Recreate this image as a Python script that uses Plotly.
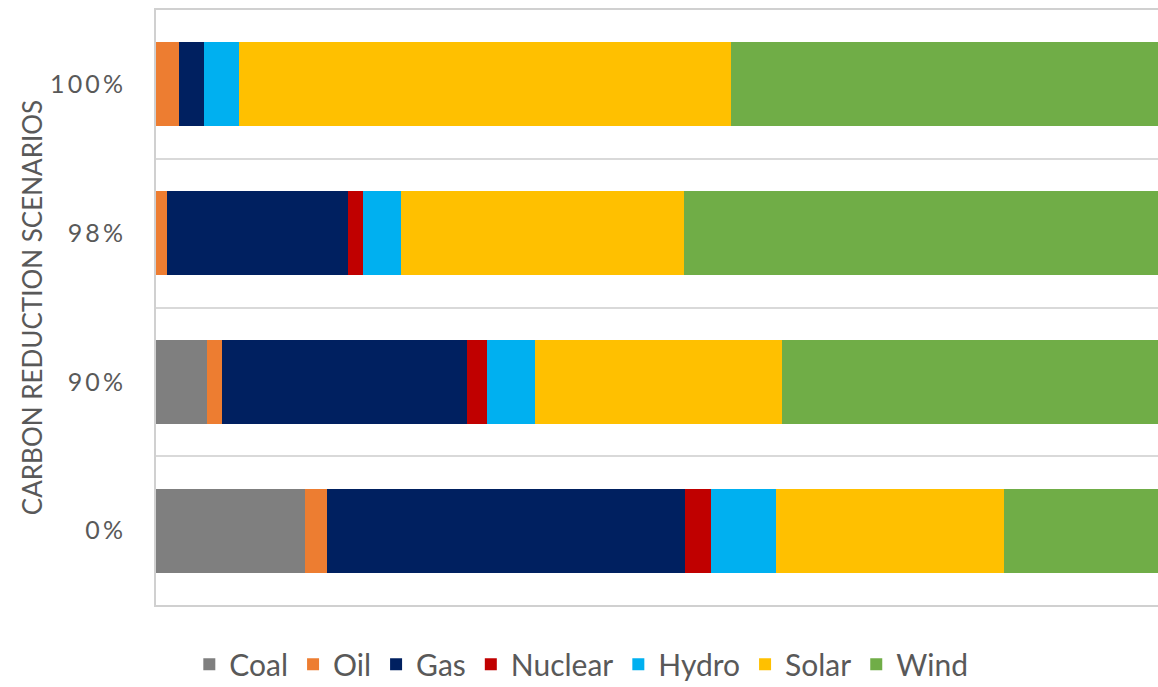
import plotly.graph_objects as go

# Generation mix (% of total) for each carbon reduction scenario
scenarios = ["0%", "90%", "98%", "100%"]
coal = [14.8, 5.0, 0.0, 0.0]
oil = [2.1, 1.5, 1.1, 2.3]
gas = [35.5, 24.3, 17.9, 2.5]
nuclear = [2.5, 2.0, 1.5, 0.0]
hydro = [6.5, 4.7, 3.8, 3.4]
solar = [22.6, 24.5, 28.0, 48.7]
wind = [16.0, 38.0, 47.7, 43.1]

series = [
    ("Coal", coal, "#7f7f7f"),
    ("Oil", oil, "#ed7d31"),
    ("Gas", gas, "#002060"),
    ("Nuclear", nuclear, "#c00000"),
    ("Hydro", hydro, "#00b0f0"),
    ("Solar", solar, "#ffc000"),
    ("Wind", wind, "#70ad47"),
]

FONT = "Lato"
TEXT = "#595959"

# tracked-out tick labels (thin space between characters)
tick_text = ["\u2009".join(s) for s in scenarios]

fig = go.Figure()
for name, vals, color in series:
    fig.add_trace(go.Bar(
        y=scenarios, x=vals, name=name, orientation="h",
        marker=dict(color=color, line=dict(width=0)),
    ))

fig.update_layout(
    width=1158, height=687,
    barmode="stack", bargap=0.435,
    plot_bgcolor="white", paper_bgcolor="white",
    margin=dict(l=156, r=0, t=10, b=82, autoexpand=False),
    font=dict(family=FONT, color=TEXT),
    legend=dict(
        orientation="h", xref="container", yref="container",
        x=0.502, xanchor="center", y=0.033, yanchor="middle",
        font=dict(size=30, color=TEXT, family=FONT),
        traceorder="normal", itemwidth=30,
    ),
    xaxis=dict(
        range=[0, 99.2], showticklabels=False, showgrid=False, zeroline=False,
        showline=True, mirror=True, linecolor="#d0d0d0", linewidth=2, ticks="",
    ),
    yaxis=dict(
        type="category", categoryorder="array", categoryarray=scenarios,
        tickvals=scenarios, ticktext=tick_text,
        range=[-0.5, 3.5], tickson="boundaries", ticks="",
        showgrid=True, gridcolor="#d9d9d9", gridwidth=2,
        showline=True, linecolor="#d0d0d0", linewidth=2,
        tickfont=dict(size=25, color=TEXT, family=FONT),
        ticklabelstandoff=26,
        title=dict(text="CARBON REDUCTION SCENARIOS",
                   font=dict(size=26, color=TEXT, family=FONT), standoff=0),
    ),
)

fig.write_html("out.html")
